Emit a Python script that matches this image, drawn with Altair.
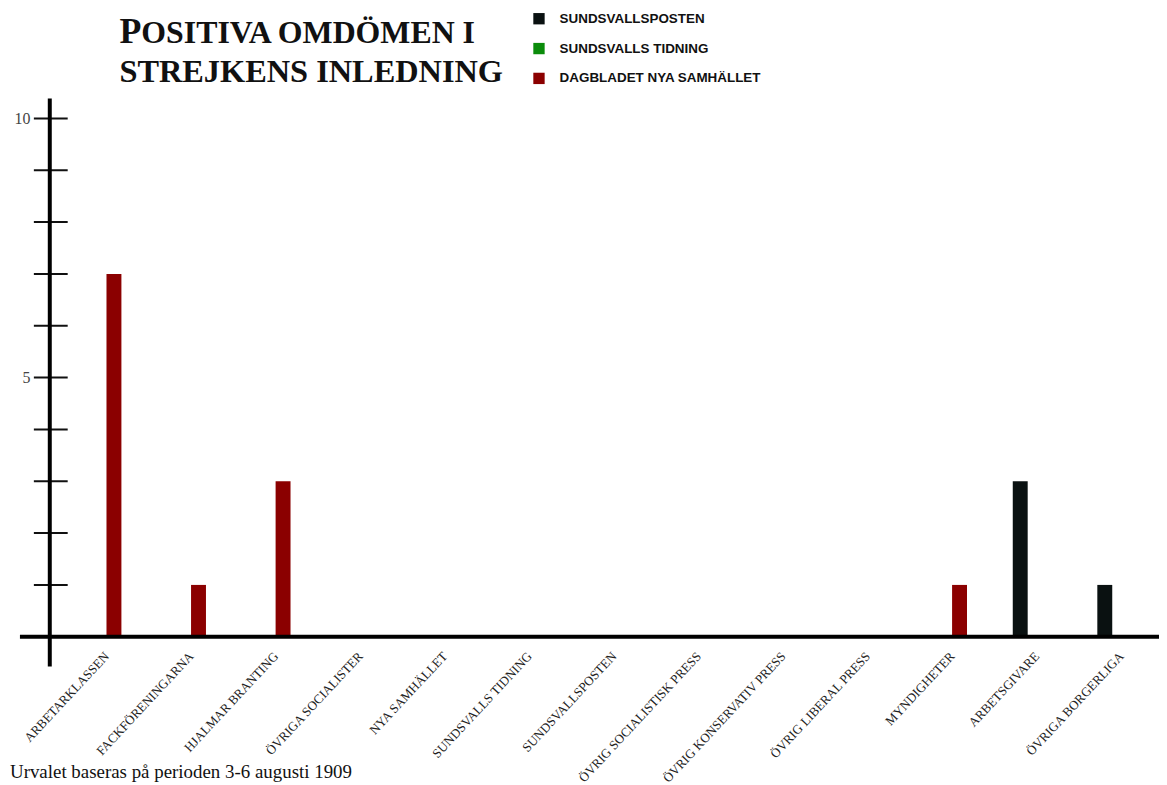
import altair as alt
import pandas as pd

categories = ["Arbetarklassen", "Fackföreningarna", "Hjalmar Branting", "Övriga socialister",
              "Nya Samhället", "Sundsvalls Tidning", "Sundsvallsposten", "Övrig socialistisk press",
              "Övrig konservativ press", "Övrig liberal press", "Myndigheter", "Arbetsgivare",
              "Övriga borgerliga"]
series_names = ["Sundsvallsposten", "Sundsvalls Tidning", "Dagbladet Nya Samhället"]
series_colors = ["#0a1111", "#0b8c0b", "#8b0000"]
sundsvallsposten = [0, 0, 0, 0, 0, 0, 0, 0, 0, 0, 0, 3, 1]
sundsvalls_tidning = [0, 0, 0, 0, 0, 0, 0, 0, 0, 0, 0, 0, 0]
dagbladet = [7, 1, 3, 0, 0, 0, 0, 0, 0, 0, 1, 0, 0]
y_ticks = [1, 2, 3, 4, 5, 6, 7, 8, 9, 10]
y_labels = [5, 10]
title_first = "P"
title_rest = "OSITIVA OMDÖMEN I"
title_line2 = "STREJKENS INLEDNING"
note = "Urvalet baseras på perioden 3-6 augusti 1909"

rows = []
for name, vals in zip(series_names, [sundsvallsposten, sundsvalls_tidning, dagbladet]):
    for c, v in zip(categories, vals):
        rows.append({"category": c, "series": name, "value": v})
df = pd.DataFrame(rows)
ticks_df = pd.DataFrame({"t": y_ticks})
one = pd.DataFrame({"k": [0]})

W, H = 1105, 521

bars = alt.Chart(df).mark_bar(width=15).encode(
    x=alt.X("category:N", sort=categories,
            scale=alt.Scale(range=[10, 1115], paddingInner=0, paddingOuter=0),
            axis=alt.Axis(title=None, domain=False, ticks=False, labelAngle=-47,
                          labelAlign="right", labelBaseline="middle", labelPadding=17,
                          labelOffset=5, labelFont="Liberation Serif", labelFontSize=13,
                          labelColor="#222", labelExpr="upper(datum.label)", labelOverlap=False,
                          labelLimit=300)),
    xOffset=alt.XOffset("series:N", sort=series_names,
                        scale=alt.Scale(range=[24.5, 60.5], paddingOuter=0, paddingInner=0)),
    y=alt.Y("value:Q", scale=alt.Scale(domain=[0, 10], nice=False),
            axis=alt.Axis(title=None, domain=False, ticks=False, grid=False, values=y_labels,
                          labelPadding=20, labelFont="Liberation Serif", labelFontSize=16,
                          labelColor="#444")),
    color=alt.Color("series:N", sort=series_names,
                    scale=alt.Scale(domain=series_names, range=series_colors),
                    legend=alt.Legend(title=None, orient="none", legendX=485, legendY=-107,
                                      symbolType="square", symbolSize=130, symbolStrokeWidth=0,
                                      labelFont="Liberation Sans", labelFontWeight="bold",
                                      labelFontSize=13.5, labelColor="#111", rowPadding=15,
                                      labelOffset=14, padding=0, labelLimit=400,
                                      labelExpr="upper(datum.label)")),
)

tick_rules = alt.Chart(ticks_df).mark_rule(color="#111", strokeWidth=2).encode(
    y=alt.Y("t:Q"), x=alt.value(-16), x2=alt.value(18)
)

y_axis_line = alt.Chart(one).mark_rule(color="#000", strokeWidth=4).encode(
    x=alt.value(0), y=alt.value(-20), y2=alt.value(H + 30)
)
x_axis_line = alt.Chart(one).mark_rule(color="#000", strokeWidth=4).encode(
    y=alt.value(H), x=alt.value(-30), x2=alt.value(W + 10)
)

title_p = alt.Chart(one).mark_text(
    align="left", baseline="alphabetic", font="Liberation Serif", fontSize=36,
    fontWeight="bold", color="#111"
).encode(x=alt.value(70), y=alt.value(-76), text=alt.value(title_first))
title_r = alt.Chart(one).mark_text(
    align="left", baseline="alphabetic", font="Liberation Serif", fontSize=32,
    fontWeight="bold", color="#111"
).encode(x=alt.value(92), y=alt.value(-76), text=alt.value(title_rest))
title_2 = alt.Chart(one).mark_text(
    align="left", baseline="alphabetic", font="Liberation Serif", fontSize=32.5,
    fontWeight="bold", color="#111"
).encode(x=alt.value(70), y=alt.value(-37), text=alt.value(title_line2))

note_text = alt.Chart(one).mark_text(
    align="left", baseline="alphabetic", font="Liberation Serif", fontSize=19, color="#111"
).encode(x=alt.value(-40), y=alt.value(H + 142), text=alt.value(note))

chart = alt.layer(bars, tick_rules, y_axis_line, x_axis_line,
                  title_p, title_r, title_2, note_text).properties(
    width=W, height=H,
    padding={"left": 42, "top": 109, "right": 10, "bottom": 147},
    autosize=alt.AutoSizeParams(type="none"),
    background="white",
).configure_view(strokeWidth=0)

chart.save("out.html", embed_options={"renderer": "svg", "actions": False})
